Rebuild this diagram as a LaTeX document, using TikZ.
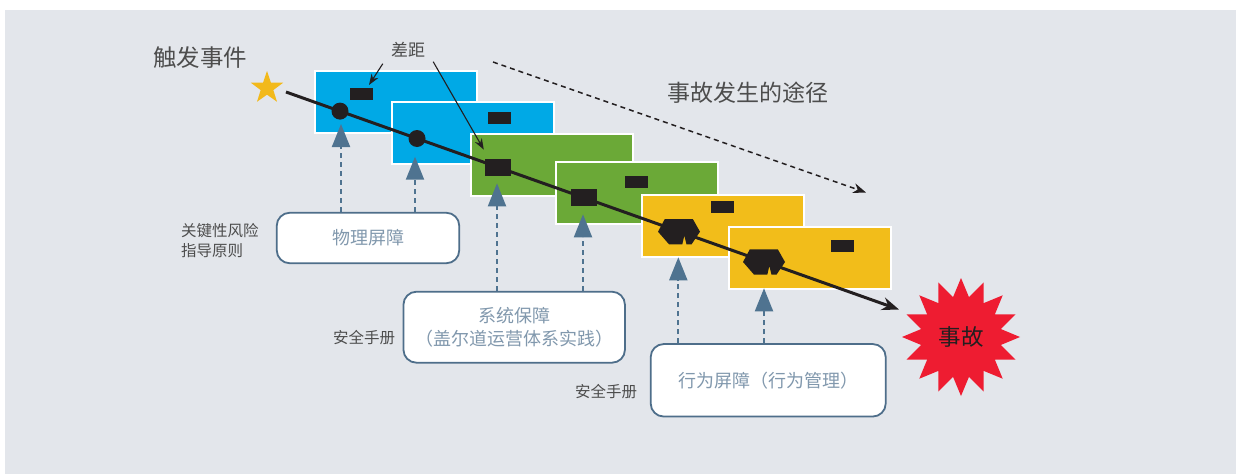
\documentclass[tikz,border=0pt]{standalone}
\usepackage{fontspec}
\setmainfont{Noto Sans CJK SC}
\usetikzlibrary{arrows.meta,shapes.geometric,calc}
\definecolor{bgc}{HTML}{E3E6EB}
\definecolor{blueR}{HTML}{00A9E6}
\definecolor{greenR}{HTML}{6BA937}
\definecolor{yellowR}{HTML}{F2BD1A}
\definecolor{holec}{HTML}{231F20}
\definecolor{steel}{HTML}{4F7390}
\definecolor{boxb}{HTML}{4E6E8A}
\definecolor{boxt}{HTML}{8198AD}
\definecolor{lblc}{HTML}{4D4D4D}
\definecolor{burst}{HTML}{EE1C31}
\definecolor{gold}{HTML}{F2B91B}
\begin{document}
\begin{tikzpicture}[x=1pt,y=-1pt,
  plate/.style={draw=white,line width=1.6pt,minimum width=162pt,minimum height=62pt,inner sep=0,anchor=north west},
  hole/.style={fill=holec,inner sep=0,minimum width=23pt,minimum height=12pt},
  bighole/.style={fill=holec,inner sep=0,minimum width=26pt,minimum height=17pt},
  dot/.style={circle,fill=holec,inner sep=0,minimum size=17pt},
  barrier/.style={draw=boxb,line width=1.8pt,fill=white,rounded corners=13pt,text=boxt,inner sep=0,font=\fontsize{18}{23}\selectfont,align=center},
  lbl/.style={text=lblc,inner sep=0},
  uparrow/.style={draw=steel,line width=2pt,dash pattern=on 5pt off 4pt,-{Triangle[length=23pt,width=18pt]}},
  mainline/.style={draw=holec,line width=3pt,-{Stealth[length=17pt,width=13pt]}},
  thinarrow/.style={draw=holec,line width=1.1pt,-{Stealth[length=11pt,width=8pt]}},
  patharrow/.style={draw=holec,line width=1.5pt,dash pattern=on 5pt off 4pt,-{Stealth[length=13pt,width=10pt]}},
  hexhole/.pic={\fill[holec] (-21,0) -- (-14.2,-12.7) -- (13.8,-12.7) -- (21,0) -- (12.5,12.7) -- (7.5,12.7) -- (5.3,4) -- (3.3,12.7) -- (-9.9,12.7) -- cycle;}
]
\useasboundingbox (0,0) rectangle (1236,474);
\fill[white] (0,0) rectangle (1236,474);
\fill[bgc] (5,10) rectangle (1236,474);

% plates
\node[plate,fill=blueR] (b1) at (314,70) {};
\node[plate,fill=blueR] (b2) at (391,101) {};
\node[plate,fill=greenR] (g1) at (470,133) {};
\node[plate,fill=greenR] (g2) at (555,161) {};
\node[plate,fill=yellowR] (y1) at (641,194) {};
\node[plate,fill=yellowR] (y2) at (728,226) {};

% small gaps
\node[hole] (h1) at (361.3,94.2) {};
\node[hole] (h2) at (499.7,117.8) {};
\node[hole] (h4) at (636.5,181.5) {};
\node[hole] (h5) at (722.5,207) {};
\node[hole] (h6) at (842.5,246) {};

% main path
\coordinate (ls) at (286,92);
\coordinate (le) at (899,309.5);
\draw[mainline] (ls) -- (le);
\node[dot] (d1) at (340,111.1) {};
\node[dot] (d2) at (417,138.5) {};
\node[bighole] (h3) at (498,167.3) {};
\node[bighole] (h3b) at (584,197.9) {};
\pic at (679,231.7) {hexhole};
\pic at (764,262) {hexhole};

% trigger
\node[star,star points=5,star point ratio=2.55,fill=gold,minimum size=34pt,inner sep=0] (st) at (267,88) {};
\node[lbl,font=\fontsize{23.5}{26}\selectfont] (trig) at (200,58) {触发事件};

% gap label
\node[lbl,font=\fontsize{17}{20}\selectfont] (gap) at (408,50) {差距};
\draw[thinarrow] ($(gap.south west)+(-8,6)$) -- ($(h1.north east)+(-4,-3)$);
\draw[thinarrow] ($(gap.south east)+(8,4)$) -- ($(h3.north west)+(-1,-9)$);

% path of accident
\coordinate (pa1) at (493,62);
\coordinate (pa2) at (866,192.5);
\draw[patharrow] (pa1) -- (pa2);
\node[lbl,font=\fontsize{23}{26}\selectfont] (pathlbl) at (748,93) {事故发生的途径};

% accident
\node[star,star points=16,star point ratio=1.45,fill=burst,minimum size=118pt,inner sep=0,font=\fontsize{22.5}{25}\selectfont,text=holec] (acc) at (961,337) {事故};

% barrier boxes
\node[barrier,minimum width=182.5pt,minimum height=50.5pt] (pb) at (368,238) {物理屏障};
\node[barrier,minimum width=221.5pt,minimum height=71pt] (sb) at (514.2,327.2) {系统保障\\（盖尔道运营体系实践）};
\node[barrier,minimum width=235pt,minimum height=72.5pt] (bb) at (768.2,380.3) {行为屏障（行为管理）};

% side labels
\node[lbl,font=\fontsize{15.5}{19.5}\selectfont,align=left,anchor=west] (crit) at (181,240.5) {关键性风险\\指导原则};
\node[lbl,font=\fontsize{15.5}{18}\selectfont] (man1) at (364,338) {安全手册};
\node[lbl,font=\fontsize{15.5}{18}\selectfont] (man2) at (606,391.5) {安全手册};

% upward arrows
\coordinate (t1) at (341,124);
\coordinate (t2) at (415,156.7);
\coordinate (t3) at (497,183.3);
\coordinate (t4) at (583,214.3);
\coordinate (t5) at (678.3,257.3);
\coordinate (t6) at (764,288.3);
\draw[uparrow] (t1 |- pb.north) -- (t1);
\draw[uparrow] (t2 |- pb.north) -- (t2);
\draw[uparrow] (t3 |- sb.north) -- (t3);
\draw[uparrow] (t4 |- sb.north) -- (t4);
\draw[uparrow] (t5 |- bb.north) -- (t5);
\draw[uparrow] (t6 |- bb.north) -- (t6);
\end{tikzpicture}
\end{document}
